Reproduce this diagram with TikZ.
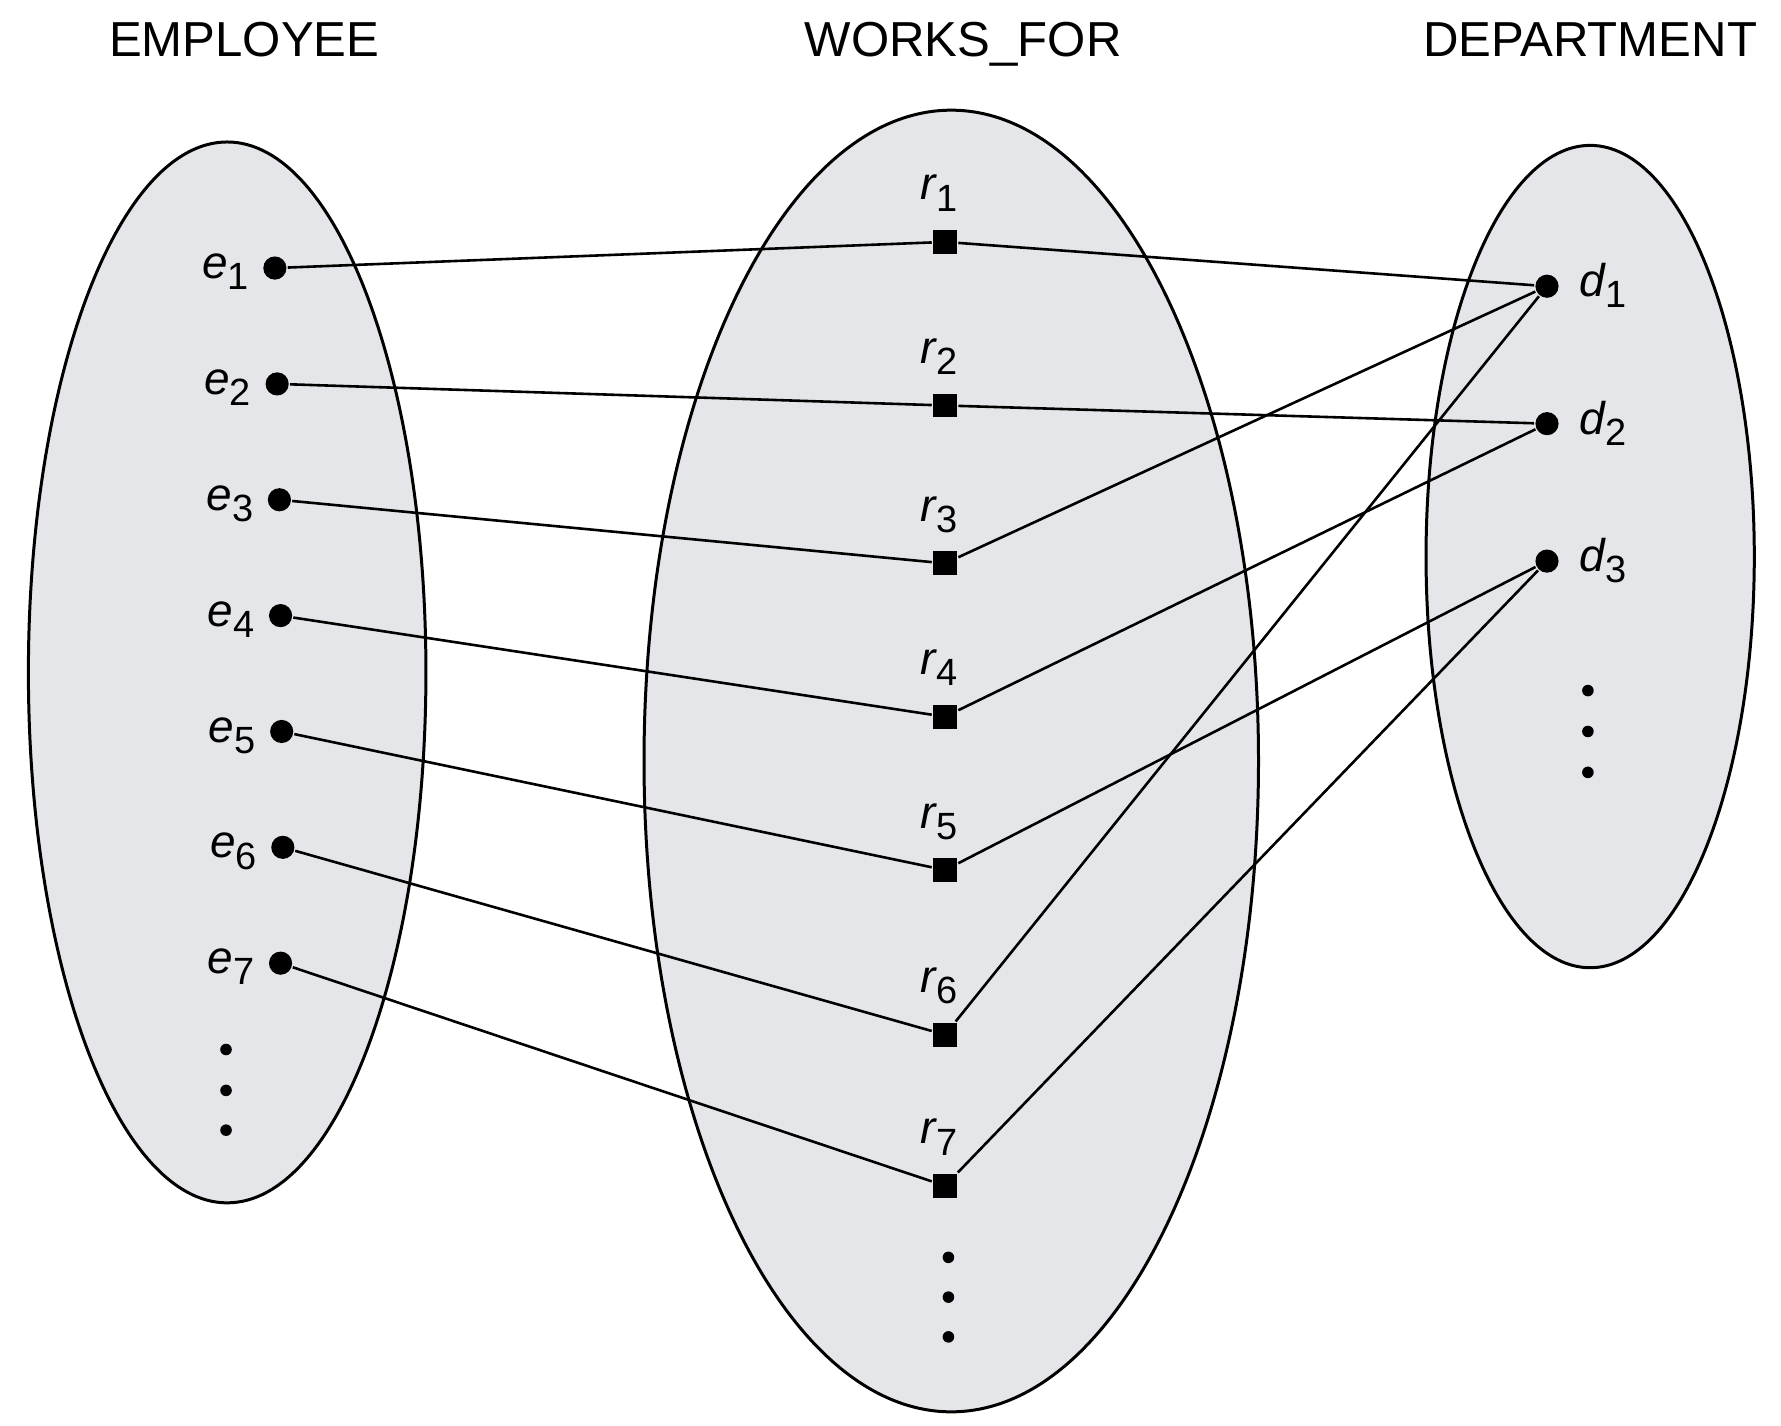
\documentclass[tikz,border=0pt]{standalone}
\usepackage{fontspec}
\setmainfont{Liberation Sans}
\definecolor{setgray}{RGB}{228,230,233}
\newcommand{\elem}[2]{\textit{#1}\raisebox{-2.8pt}{\fontsize{9.5}{10}\selectfont #2}}

\begin{document}
\begin{tikzpicture}[x=0.01cm, y=-0.01cm, line width=0.65pt,
  set/.style={fill=setgray, draw=black, line width=0.75pt},
  ent/.style={circle, fill=black, inner sep=0pt, minimum size=5.8pt},
  rel/.style={rectangle, fill=black, inner sep=0pt, minimum size=6pt},
  lbl/.style={inner sep=0pt, font=\fontsize{11.5}{14}\selectfont},
  title/.style={anchor=base, inner sep=0pt, font=\fontsize{12.3}{14}\selectfont}]
  \useasboundingbox (0,0) rectangle (1568,1255);
  % the three sets
  \draw[set] (200,592) ellipse [x radius=175, y radius=467];
  \draw[set] (837.5,670) ellipse [x radius=270.5, y radius=573];
  \draw[set] (1400,490) ellipse [x radius=144.5, y radius=362];
  \node[title] (tE) at (215,50) {EMPLOYEE};
  \node[title] (tW) at (848,50) {WORKS\_FOR};
  \node[title] (tD) at (1400,50) {DEPARTMENT};
  % entities and relationship instances
  \foreach \i/\x/\y in {1/242/236, 2/244/338, 3/246/440, 4/247/542, 5/248/644, 6/249/746, 7/247/848} {
    \node[ent] (e\i) at (\x,\y) {};
    \node[lbl, anchor=mid east, xshift=-3pt] (le\i) at (e\i.west) {\elem{e}{\i}};
  }
  \foreach \i/\y in {1/213, 2/357, 3/496, 4/631, 5/766, 6/911, 7/1044} {
    \node[rel] (r\i) at (832,\y) {};
    \node[lbl, anchor=base, xshift=-1.5pt, yshift=10.5pt] (lr\i) at (r\i) {\elem{r}{\i}};
  }
  \foreach \i/\y in {1/252, 2/373, 3/494} {
    \node[ent] (d\i) at (1362,\y) {};
    \node[lbl, anchor=mid west, xshift=4.5pt] (ld\i) at (d\i.east) {\elem{d}{\i}};
  }
  \foreach \a/\b in {e1/r1, r1/d1, e2/r2, r2/d2, e3/r3, r3/d1, e4/r4, r4/d2,
                     e5/r5, r5/d3, e6/r6, r6/d1, e7/r7, r7/d3}
    \draw (\a) -- (\b);
  % more elements
  \foreach \x/\y in {199/924, 199/960, 199/995, 835/1107, 835/1142, 835/1177,
                     1398/608, 1398/644, 1398/680}
    \fill (\x,\y) circle [radius=1.45pt];
\end{tikzpicture}
\end{document}
